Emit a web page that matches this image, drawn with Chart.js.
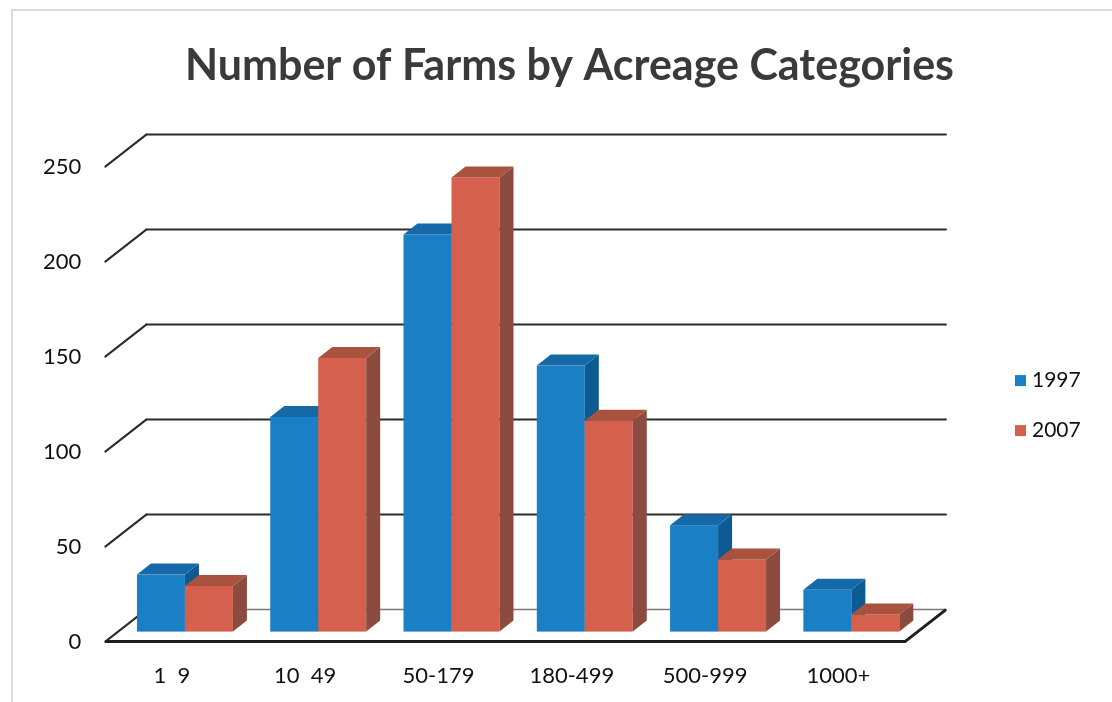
<!DOCTYPE html>
<html>
<head>
    <title>Number of Farms by Acreage Categories</title>
    <script src="https://cdn.jsdelivr.net/npm/chart.js"></script>
    <style>
        body {
            margin: 0;
            background-color: #ffffff;
        }
        .chart-container {
            width: 1112px;
            height: 702px;
        }
    </style>
</head>
<body>
    <div class="chart-container">
        <canvas id="farmChart"></canvas>
    </div>

    <script>
        // Data
        const categories = ['1  9', '10  49', '50-179', '180-499', '500-999', '1000+'];
        const farms1997 = [30, 113, 209, 140, 56, 22];
        const farms2007 = [24, 144, 239, 111, 38, 9];
        const yTicks = [0, 50, 100, 150, 200, 250];

        // Offsets for the fake 3D look
        const WALL_DX = 41, WALL_DY = -32;   // back wall relative to front plane
        const BAR_DX = 13, BAR_DY = -10;     // bars sit a bit behind the front plane
        const DEPTH_DX = 14, DEPTH_DY = -11; // bar thickness

        const shades = [
            { front: '#1a7fc5', top: '#1569a8', side: '#0e5a92' },
            { front: '#d5604e', top: '#a9533f', side: '#8c4b3f' }
        ];

        // Draws the back wall, floor, 3D bars and the legend
        const fake3d = {
            id: 'fake3d',
            beforeDraw(chart) {
                // faint frame of the scanned chart
                const ctx = chart.ctx;
                ctx.save();
                ctx.strokeStyle = '#cfcfcf';
                ctx.lineWidth = 1.5;
                ctx.beginPath();
                ctx.moveTo(12, chart.height);
                ctx.lineTo(12, 10);
                ctx.lineTo(chart.width, 10);
                ctx.stroke();
                ctx.restore();
            },
            beforeDatasetsDraw(chart) {
                const ctx = chart.ctx;
                const area = chart.chartArea;
                const y = chart.scales.y;
                ctx.save();
                ctx.lineCap = 'round';
                yTicks.forEach(v => {
                    const yp = y.getPixelForValue(v);
                    ctx.strokeStyle = v === 0 ? '#7a7a7a' : '#2b2b2b';
                    ctx.lineWidth = v === 0 ? 1.5 : 2;
                    ctx.beginPath();
                    ctx.moveTo(area.left + WALL_DX, yp + WALL_DY);
                    ctx.lineTo(area.right + WALL_DX, yp + WALL_DY);
                    ctx.stroke();
                    // little diagonal at the left side
                    ctx.strokeStyle = '#2b2b2b';
                    ctx.lineWidth = 2;
                    ctx.beginPath();
                    ctx.moveTo(area.left, yp);
                    ctx.lineTo(area.left + WALL_DX, yp + WALL_DY);
                    ctx.stroke();
                });
                ctx.restore();
            },
            beforeDatasetDraw() {
                // bars are painted in afterDatasetsDraw, group by group
                return false;
            },
            afterDatasetsDraw(chart) {
                const ctx = chart.ctx;
                const area = chart.chartArea;
                const y0 = chart.scales.y.getPixelForValue(0);
                ctx.save();
                categories.forEach((c, i) => {
                    chart.data.datasets.forEach((ds, d) => {
                        const el = chart.getDatasetMeta(d).data[i];
                        const p = el.getProps(['x', 'y', 'base', 'width'], true);
                        const left = p.x - p.width / 2 + BAR_DX;
                        const right = p.x + p.width / 2 + BAR_DX;
                        const top = p.y + BAR_DY;
                        const bottom = p.base + BAR_DY;
                        const s = shades[d];

                        ctx.fillStyle = s.front;
                        ctx.fillRect(left, top, right - left, bottom - top);

                        ctx.fillStyle = s.side;
                        ctx.beginPath();
                        ctx.moveTo(right, top);
                        ctx.lineTo(right + DEPTH_DX, top + DEPTH_DY);
                        ctx.lineTo(right + DEPTH_DX, bottom + DEPTH_DY);
                        ctx.lineTo(right, bottom);
                        ctx.closePath();
                        ctx.fill();

                        ctx.fillStyle = s.top;
                        ctx.beginPath();
                        ctx.moveTo(left, top);
                        ctx.lineTo(left + DEPTH_DX, top + DEPTH_DY);
                        ctx.lineTo(right + DEPTH_DX, top + DEPTH_DY);
                        ctx.lineTo(right, top);
                        ctx.closePath();
                        ctx.fill();
                    });
                });

                // floor front edge and right edge
                ctx.strokeStyle = '#1e1e1e';
                ctx.lineWidth = 3;
                ctx.beginPath();
                ctx.moveTo(area.left, y0);
                ctx.lineTo(area.right, y0);
                ctx.lineTo(area.right + WALL_DX, y0 + WALL_DY);
                ctx.stroke();
                ctx.restore();
            },
            afterDraw(chart) {
                // legend to the right, centred on the plot
                const ctx = chart.ctx;
                const area = chart.chartArea;
                const midY = (area.top + area.bottom) / 2 + 1;
                ctx.save();
                ctx.font = '21px Lato';
                ctx.textBaseline = 'middle';
                chart.data.datasets.forEach((ds, d) => {
                    const cy = midY + (d - 0.5) * 50;
                    ctx.fillStyle = ds.backgroundColor;
                    ctx.fillRect(1015, cy - 5, 11, 11);
                    ctx.fillStyle = '#111';
                    ctx.fillText(ds.label, 1032, cy);
                });
                ctx.restore();
            }
        };

        const ctx = document.getElementById('farmChart').getContext('2d');
        const farmChart = new Chart(ctx, {
            type: 'bar',
            data: {
                labels: categories,
                datasets: [{
                    label: '1997',
                    data: farms1997,
                    backgroundColor: shades[0].front,
                    categoryPercentage: 0.72,
                    barPercentage: 1.0
                }, {
                    label: '2007',
                    data: farms2007,
                    backgroundColor: shades[1].front,
                    categoryPercentage: 0.72,
                    barPercentage: 1.0
                }]
            },
            options: {
                responsive: true,
                maintainAspectRatio: false,
                animation: false,
                devicePixelRatio: 1,
                layout: {
                    padding: { left: 27, right: 0, top: 0, bottom: 0 }
                },
                scales: {
                    x: {
                        grid: { display: false },
                        border: { display: false },
                        ticks: {
                            color: '#111',
                            padding: 13,
                            font: { family: 'Lato', size: 22 }
                        }
                    },
                    y: {
                        min: 0,
                        max: 250,
                        grid: { display: false },
                        border: { display: false },
                        ticks: {
                            stepSize: 50,
                            color: '#111',
                            padding: 16,
                            font: { family: 'Lato', size: 22 }
                        }
                    },
                    // empty axis that only keeps room for the legend on the right
                    spacer: {
                        type: 'linear',
                        position: 'right',
                        grid: { display: false },
                        border: { display: false },
                        ticks: { display: false },
                        afterFit: (scale) => { scale.width = 207; }
                    }
                },
                plugins: {
                    title: {
                        display: true,
                        text: 'Number of Farms by Acreage Categories',
                        color: '#3a3a3a',
                        font: { family: 'Lato', size: 43, weight: 'bold' },
                        padding: { top: 40, bottom: 75 }
                    },
                    legend: { display: false },
                    tooltip: { enabled: false }
                }
            },
            plugins: [fake3d]
        });
    </script>
</body>
</html>
